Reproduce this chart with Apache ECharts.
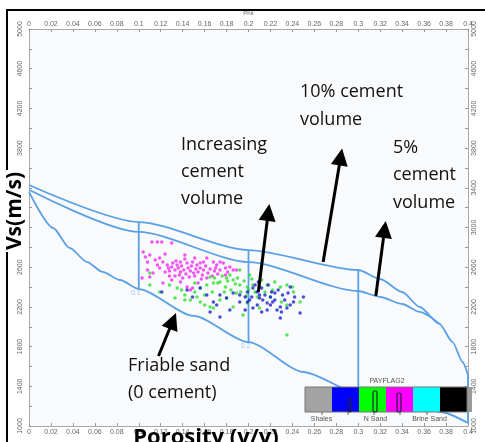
<!DOCTYPE html>
<html><head><meta charset="utf-8">
<script src="https://cdn.jsdelivr.net/npm/echarts@6/dist/echarts.min.js"></script>
<style>html,body{margin:0;padding:0;background:#fff}#c{width:485px;height:442px}</style>
</head><body><div id="c"></div>
<script>
// ---- model lines (porosity v/v, Vs m/s) ----
const cement10Phi = [0, 0.1, 0.2, 0.3, 0.32, 0.34, 0.356, 0.374, 0.386, 0.395, 0.4];
const cement10Vs  = [3428, 3055, 2773, 2572, 2481, 2350, 2199, 2028, 1846, 1645, 1514];
const cement5Phi  = [0, 0.1, 0.2, 0.3, 0.32, 0.34, 0.356, 0.374];
const cement5Vs   = [3380, 2955, 2652, 2360, 2300, 2229, 2149, 2028];
const friablePhi  = [0, 0.022, 0.037, 0.053, 0.067, 0.083, 0.1, 0.15, 0.2, 0.25, 0.3, 0.35, 0.375, 0.4];
const friableVs   = [3358, 2995, 2794, 2652, 2552, 2471, 2380, 2110, 1846, 1544, 1332, 1240, 1141, 1030];
const verticalPhi      = [0.1, 0.2, 0.3, 0.4];
const verticalTopVs    = [3055, 2773, 2572, 1514];
const verticalBottomVs = [2380, 1846, 1332, 1030];
const nodeLabels = ['0.1', '0.2', '0.3'];

// ---- well data points [phi, Vs] ----
const magentaPoints = [[0.112,2854],[0.117,2854],[0.121,2854],[0.130,2844],[0.104,2753],[0.106,2703],[0.110,2723],[0.115,2673],[0.108,2652],[0.119,2693],[0.122,2652],[0.126,2622],[0.131,2642],[0.135,2622],[0.138,2652],[0.144,2642],[0.149,2652],[0.153,2622],[0.156,2642],[0.162,2693],[0.168,2652],[0.171,2622],[0.177,2642],[0.183,2602],[0.186,2572],[0.189,2572],[0.108,2572],[0.110,2501],[0.113,2542],[0.103,2491],[0.144,2401],[0.147,2370],[0.149,2390],[0.122,2441],[0.127,2592],[0.128,2562],[0.130,2602],[0.133,2572],[0.136,2592],[0.138,2552],[0.139,2612],[0.141,2572],[0.143,2532],[0.145,2592],[0.147,2562],[0.148,2612],[0.150,2542],[0.152,2582],[0.154,2552],[0.156,2592],[0.158,2521],[0.159,2572],[0.161,2612],[0.163,2542],[0.165,2582],[0.167,2511],[0.169,2562],[0.170,2592],[0.172,2532],[0.174,2572],[0.133,2511],[0.137,2521],[0.140,2491],[0.146,2501],[0.151,2511],[0.157,2481],[0.162,2491],[0.124,2552],[0.128,2511],[0.119,2592],[0.117,2622],[0.134,2663],[0.142,2683],[0.151,2693],[0.159,2652],[0.174,2652],[0.179,2592],[0.181,2552],[0.138,2451],[0.154,2441],[0.130,2471],[0.179,2521],[0.142,2723],[0.124,2733]];
const greenPoints = [[0.110,2542],[0.128,2421],[0.135,2390],[0.147,2270],[0.153,2300],[0.156,2390],[0.156,2249],[0.162,2421],[0.165,2199],[0.168,2441],[0.168,2189],[0.174,2451],[0.174,2270],[0.180,2491],[0.180,2290],[0.186,2471],[0.186,2199],[0.192,2421],[0.195,2118],[0.199,2401],[0.199,2239],[0.204,2421],[0.208,2300],[0.210,2401],[0.210,2189],[0.217,2421],[0.220,2300],[0.222,2370],[0.229,2401],[0.230,2249],[0.235,2421],[0.235,2219],[0.240,2401],[0.241,2350],[0.247,2249],[0.235,1917],[0.169,2491],[0.172,2441],[0.176,2511],[0.179,2401],[0.181,2461],[0.184,2370],[0.188,2431],[0.190,2491],[0.193,2350],[0.196,2461],[0.200,2370],[0.203,2481],[0.189,2340],[0.183,2521],[0.198,2310],[0.178,2350],[0.206,2350],[0.167,2350],[0.160,2320],[0.151,2350],[0.142,2320],[0.192,2572],[0.201,2521],[0.212,2471],[0.215,2350],[0.224,2451],[0.142,2270],[0.160,2219],[0.133,2290],[0.119,2350],[0.110,2421],[0.139,2370],[0.151,2441],[0.165,2501]];
const bluePoints = [[0.121,2350],[0.144,2370],[0.149,2300],[0.156,2390],[0.162,2320],[0.168,2249],[0.171,2219],[0.174,2320],[0.174,2098],[0.180,2290],[0.186,2340],[0.192,2320],[0.192,2249],[0.199,2350],[0.199,2249],[0.203,2300],[0.204,2390],[0.204,2189],[0.208,2350],[0.208,2219],[0.210,2320],[0.210,2290],[0.213,2270],[0.217,2239],[0.217,2169],[0.220,2300],[0.222,2249],[0.226,2169],[0.229,2199],[0.230,2149],[0.235,2189],[0.241,2249],[0.247,2139],[0.250,2300],[0.206,2421],[0.212,2390],[0.218,2421],[0.221,2350],[0.227,2370],[0.231,2320],[0.236,2340],[0.215,2320],[0.224,2270],[0.233,2270],[0.238,2401],[0.201,2270],[0.197,2300],[0.209,2451],[0.242,2300],[0.220,2219],[0.212,2149],[0.229,2088],[0.183,2169],[0.165,2149],[0.197,2169],[0.238,2219],[0.224,2340]];

// ---- annotation arrows: [phi, Vs] start -> head ----
const arrowStarts = [[0.268,2652],[0.209,2350],[0.316,2310],[0.118,1705]];
const arrowEnds   = [[0.284,3711],[0.218,3152],[0.324,2981],[0.131,2058]];

// ---- legend (colour bar) ----
const legendTitle = 'PAYFLAG2';
const legendColors = ['#a3a3a3','#0000ff','#00ff00','#ff00ff','#00ffff','#000000'];
const legendNames = ['Shales','N Sand','Brine Sand'];

const lineColor = '#5aa0e6';
const fmtPhi = v => String(+v.toFixed(2));
const fmtVs = v => ((Math.round(v) - 1000) % 400 === 0 ? String(Math.round(v)) : '');

function xAx(pos, extra) {
  return Object.assign({
    type: 'value', position: pos, min: 0, max: 0.4, interval: 0.02,
    axisLine: { onZero: false, lineStyle: { color: '#a9a9a9', width: 1 } },
    axisTick: { inside: true, length: 3, lineStyle: { color: '#999' } },
    axisLabel: { fontSize: 7, color: '#666', margin: pos === 'top' ? 1 : 3, formatter: fmtPhi, fontFamily: 'Liberation Sans' },
    splitLine: { show: false }
  }, extra || {});
}
function yAx(pos) {
  return {
    type: 'value', position: pos, min: 1000, max: 5000, interval: 200,
    axisLine: { onZero: false, lineStyle: { color: '#a9a9a9', width: 1 } },
    axisTick: { inside: true, length: 3, lineStyle: { color: '#999' } },
    axisLabel: { rotate: 90, fontSize: 7, color: '#666', margin: pos === 'left' ? 5 : 3, formatter: fmtVs, fontFamily: 'Liberation Sans' },
    splitLine: { show: false }
  };
}

const series = [];
function lineSeries(phis, vs) {
  return { type: 'line', data: phis.map((p, i) => [p, vs[i]]), showSymbol: false, smooth: 0.25, smoothMonotone: 'x',
    lineStyle: { color: lineColor, width: 1.8 }, silent: true, z: 2 };
}
series.push(lineSeries(cement10Phi, cement10Vs));
series.push(lineSeries(cement5Phi, cement5Vs));
series.push(lineSeries(friablePhi, friableVs));
verticalPhi.forEach((p, i) => {
  series.push({ type: 'line', data: [[p, verticalTopVs[i]], [p, verticalBottomVs[i]]], showSymbol: false,
    lineStyle: { color: lineColor, width: 1.8 }, silent: true, z: 2 });
});
series.push({ type: 'scatter', data: nodeLabels.map((t, i) => [verticalPhi[i], verticalBottomVs[i]]), symbolSize: 0,
  label: { show: true, position: 'bottom', distance: 1, offset: [-3, 0], fontSize: 7, color: '#8fb8e6',
    formatter: p => nodeLabels[p.dataIndex] }, silent: true, z: 3 });
const ptStyle = (c) => ({ type: 'scatter', symbol: 'circle', symbolSize: 3.5, itemStyle: { color: c }, silent: true, z: 4 });
series.push(Object.assign(ptStyle('#f02cf0'), { data: magentaPoints }));
series.push(Object.assign(ptStyle('#2ee02e'), { data: greenPoints }));
series.push(Object.assign(ptStyle('#1c22c8'), { data: bluePoints }));
series.push({ type: 'lines', coordinateSystem: 'cartesian2d', symbol: ['none', 'triangle'], symbolSize: [13, 17],
  lineStyle: { color: '#000', width: 3, opacity: 1 }, silent: true, z: 6,
  data: arrowStarts.map((s, i) => ({ coords: [s, arrowEnds[i]] })) });

// graphic: frame, texts, legend
const g = [];
g.push({ type: 'rect', shape: { x: 7, y: 10, width: 700, height: 700 }, style: { fill: 'none', stroke: '#000', lineWidth: 2 }, z: 1 });
const annFont = { fontSize: 18, fontFamily: 'Open Sans', fill: '#111', align: 'left', verticalAlign: 'middle' };
const annotations = [
  ['10% cement', 300, 92], ['volume', 300, 120],
  ['Increasing', 181, 145], ['cement', 181, 172], ['volume', 181, 199],
  ['5%', 393, 148], ['cement', 393, 175], ['volume', 393, 203],
  ['Friable sand', 128, 366], ['(0 cement)', 128, 393]
];
annotations.forEach(a => g.push({ type: 'text', x: a[1], y: a[2], z: 50, style: Object.assign({ text: a[0] }, annFont) }));
g.push({ type: 'text', x: 15, y: 211, rotation: Math.PI / 2, z: 50,
  style: { text: 'Vs(m/s)', fontSize: 21, fontWeight: 'bold', fontFamily: 'Open Sans', fill: '#000', align: 'center', verticalAlign: 'middle',
    backgroundColor: '#fff', padding: [0, 2] } });
g.push({ type: 'text', x: 206, y: 438, z: 50,
  style: { text: 'Porosity (v/v)', fontSize: 22, fontWeight: 'bold', fontFamily: 'Open Sans', fill: '#000', align: 'center', verticalAlign: 'middle' } });
// legend colour bar
const lx = 305, ly = 387, lw = 27, lh = 25;
legendColors.forEach((c, i) => g.push({ type: 'rect', shape: { x: lx + i * lw, y: ly, width: lw, height: lh }, style: { fill: c }, z: 60 }));
g.push({ type: 'rect', shape: { x: lx + 6 * lw, y: ly, width: 5, height: lh }, style: { fill: '#9a9a9a' }, z: 60 });
g.push({ type: 'rect', shape: { x: lx, y: ly, width: 6 * lw, height: lh }, style: { fill: 'none', stroke: '#777', lineWidth: 1 }, z: 61 });
[[348, 398, 3, 14], [373, 391, 4, 21], [397, 393, 4, 19]].forEach(r => g.push({ type: 'rect',
  shape: { x: r[0], y: r[1], width: r[2], height: r[3], r: 1.5 }, style: { fill: 'none', stroke: '#202040', lineWidth: 1.2 }, z: 62 }));
[322, 348, 374, 400, 427].forEach(x => g.push({ type: 'line', shape: { x1: x, y1: ly + lh, x2: x, y2: ly + lh + 3 }, style: { stroke: '#666', lineWidth: 1 }, z: 62 }));
g.push({ type: 'text', x: 387, y: 381, z: 62, style: { text: legendTitle, fontSize: 7, fill: '#555', align: 'center', verticalAlign: 'middle', fontFamily: 'Liberation Sans' } });
legendNames.forEach((n, i) => g.push({ type: 'text', x: lx + (2 * i + 0.5) * lw + 3, y: 419, z: 62,
  style: { text: n, fontSize: 7, fill: '#555', align: 'center', verticalAlign: 'middle', fontFamily: 'Liberation Sans' } }));

const chart = echarts.init(document.getElementById('c'), null, { renderer: 'canvas' });
chart.setOption({
  animation: false,
  backgroundColor: '#fff',
  grid: { left: 29, right: 17, top: 29, bottom: 16, show: true, backgroundColor: '#f9fafc', borderWidth: 0 },
  xAxis: [xAx('bottom'), xAx('top', { name: 'Phit', nameLocation: 'middle', nameGap: 13, nameTextStyle: { fontSize: 6, color: '#666' } })],
  yAxis: [yAx('left'), yAx('right')],
  series: series,
  graphic: g
});
</script>
</body></html>
